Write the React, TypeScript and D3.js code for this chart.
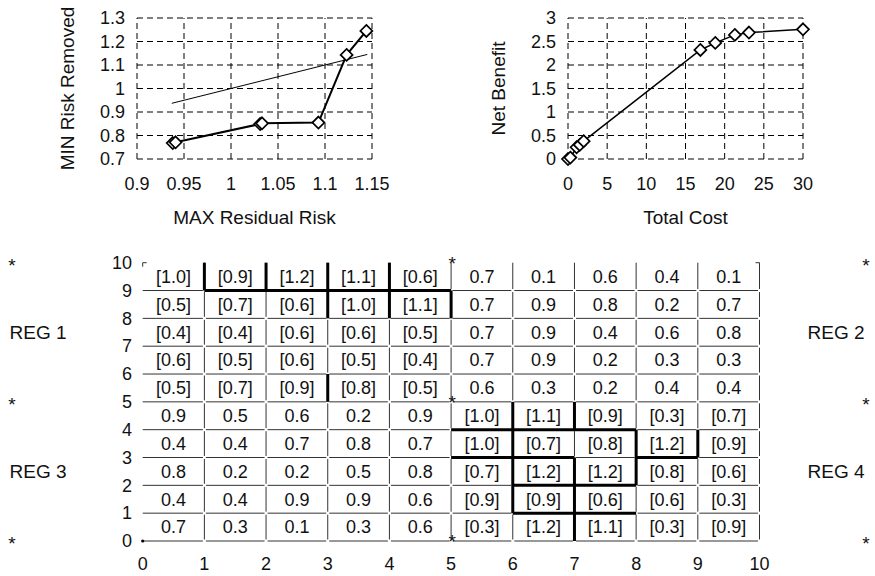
import React from "react";
import * as d3 from "d3";

// top-left: risk trade-off
const riskX = [0.938, 0.941, 1.031, 1.033, 1.093, 1.123, 1.144];
const riskY = [0.768, 0.771, 0.849, 0.852, 0.855, 1.143, 1.245];
const diagRange = [0.937, 1.145];
const riskXTicks = [0.9, 0.95, 1, 1.05, 1.1, 1.15];
const riskYTicks = [0.7, 0.8, 0.9, 1, 1.1, 1.2, 1.3];

// top-right: cost / benefit
const costX = [0, 0.3, 1.1, 1.5, 2.0, 16.9, 18.8, 21.3, 23.1, 30.0];
const benefitY = [0, 0.03, 0.25, 0.3, 0.38, 2.32, 2.47, 2.64, 2.69, 2.76];
const costTicks = [0, 5, 10, 15, 20, 25, 30];
const benefitTicks = [0, 0.5, 1, 1.5, 2, 2.5, 3];

// bottom grid, rows from y=9 (top) down to y=0
const cellRows = [
  [1.0, 0.9, 1.2, 1.1, 0.6, 0.7, 0.1, 0.6, 0.4, 0.1],
  [0.5, 0.7, 0.6, 1.0, 1.1, 0.7, 0.9, 0.8, 0.2, 0.7],
  [0.4, 0.4, 0.6, 0.6, 0.5, 0.7, 0.9, 0.4, 0.6, 0.8],
  [0.6, 0.5, 0.6, 0.5, 0.4, 0.7, 0.9, 0.2, 0.3, 0.3],
  [0.5, 0.7, 0.9, 0.8, 0.5, 0.6, 0.3, 0.2, 0.4, 0.4],
  [0.9, 0.5, 0.6, 0.2, 0.9, 1.0, 1.1, 0.9, 0.3, 0.7],
  [0.4, 0.4, 0.7, 0.8, 0.7, 1.0, 0.7, 0.8, 1.2, 0.9],
  [0.8, 0.2, 0.2, 0.5, 0.8, 0.7, 1.2, 1.2, 0.8, 0.6],
  [0.4, 0.4, 0.9, 0.9, 0.6, 0.9, 0.9, 0.6, 0.6, 0.3],
  [0.7, 0.3, 0.1, 0.3, 0.6, 0.3, 1.2, 1.1, 0.3, 0.9],
];
const gridTicks = d3.range(0, 11);
// thick zone borders [x1, y1, x2, y2]
const thickSegs = [
  [1, 9, 5, 9], [5, 4, 8, 4], [5, 3, 7, 3], [8, 3, 9, 3], [6, 2, 8, 2], [6, 1, 8, 1],
  [1, 9, 1, 10], [2, 9, 2, 10], [3, 8, 3, 10], [4, 8, 4, 10], [5, 8, 5, 9], [3, 5, 3, 6],
  [6, 1, 6, 5], [7, 4, 7, 5], [7, 0, 7, 3], [8, 2, 8, 4], [9, 3, 9, 4],
];
const regLabels = [
  { name: "REG 1", side: "left", y: 7.5 },
  { name: "REG 2", side: "right", y: 7.5 },
  { name: "REG 3", side: "left", y: 2.5 },
  { name: "REG 4", side: "right", y: 2.5 },
];
const starY = [10, 5, 0];

const font = "Liberation Sans, Arial, sans-serif";

const diamond = (cx: number, cy: number, r: number) =>
  `M${cx},${cy - r}L${cx + r},${cy}L${cx},${cy + r}L${cx - r},${cy}Z`;

const fmt = (v: number) => v.toFixed(1);

function LinePanel({ xs, ys, xTicks, yTicks, xRange, yRange, xTitle, yTitle, yTitleX, lw, diag }: any) {
  const x = d3.scaleLinear().domain([xTicks[0], xTicks[xTicks.length - 1]]).range(xRange);
  const y = d3.scaleLinear().domain([yTicks[0], yTicks[yTicks.length - 1]]).range(yRange);
  const line = d3.line<number>().x((d, i) => x(xs[i])).y((d, i) => y(ys[i]));
  const cx = (xRange[0] + xRange[1]) / 2;
  const cy = (yRange[0] + yRange[1]) / 2;
  return (
    <g fontFamily={font} fill="#111">
      {xTicks.map((t: number) => (
        <line key={"gx" + t} x1={x(t)} x2={x(t)} y1={yRange[0]} y2={yRange[1]} stroke="#000" strokeDasharray="6,4" />
      ))}
      {yTicks.map((t: number) => (
        <line key={"gy" + t} x1={xRange[0]} x2={xRange[1]} y1={y(t)} y2={y(t)} stroke="#000" strokeDasharray="6,4" />
      ))}
      {diag && (
        <line x1={x(diag[0])} y1={y(diag[0])} x2={x(diag[1])} y2={y(diag[1])} stroke="#000" strokeWidth={1} />
      )}
      <path d={line(xs) || ""} fill="none" stroke="#000" strokeWidth={lw} />
      {xs.map((v: number, i: number) => (
        <path key={"m" + i} d={diamond(x(v), y(ys[i]), 6)} fill="#fff" stroke="#000" strokeWidth={1.7} />
      ))}
      {xTicks.map((t: number) => (
        <text key={"tx" + t} x={x(t)} y={yRange[0] + 25} dy="0.35em" textAnchor="middle" fontSize={18}>
          {String(t)}
        </text>
      ))}
      {yTicks.map((t: number) => (
        <text key={"ty" + t} x={xRange[0] - 12} y={y(t)} dy="0.35em" textAnchor="end" fontSize={18}>
          {String(t)}
        </text>
      ))}
      <text x={cx} y={217} dy="0.35em" textAnchor="middle" fontSize={19}>{xTitle}</text>
      <text transform={`translate(${yTitleX},${cy}) rotate(-90)`} dy="0.35em" textAnchor="middle" fontSize={19}>
        {yTitle}
      </text>
    </g>
  );
}

export default function App() {
  const gx = d3.scaleLinear().domain([0, 10]).range([142.7, 759.5]);
  const gy = d3.scaleLinear().domain([0, 10]).range([541, 262.7]);
  const gap = 1.5;
  const thin: JSX.Element[] = [];
  for (let j = 0; j <= 9; j++) {
    for (let i = 0; i < 10; i++) {
      thin.push(
        <line key={`h${i}-${j}`} x1={gx(i) + (i === 0 ? 0 : gap)} x2={gx(i + 1) - gap} y1={gy(j)} y2={gy(j)} />
      );
    }
  }
  for (let i = 1; i <= 10; i++) {
    for (let j = 0; j < 10; j++) {
      thin.push(
        <line key={`v${i}-${j}`} x1={gx(i)} x2={gx(i)} y1={gy(j + 1) + (j === 9 ? 0 : gap)} y2={gy(j) - gap} />
      );
    }
  }

  return (
    <svg width={875} height={576} style={{ position: "absolute", left: 0, top: 0, background: "#fff" }}>
      <LinePanel
        xs={riskX} ys={riskY} xTicks={riskXTicks} yTicks={riskYTicks}
        xRange={[137, 372]} yRange={[159, 18]}
        xTitle="MAX Residual Risk" yTitle="MIN Risk Removed" yTitleX={67} lw={2} diag={diagRange}
      />
      <LinePanel
        xs={costX} ys={benefitY} xTicks={costTicks} yTicks={benefitTicks}
        xRange={[568, 803]} yRange={[159, 18]}
        xTitle="Total Cost" yTitle="Net Benefit" yTitleX={498} lw={1.5}
      />

      <g stroke="#333" strokeWidth={1}>{thin}</g>
      <g stroke="#333" strokeWidth={1}>
        <line x1={gx(0)} x2={gx(0) + 4} y1={gy(10)} y2={gy(10)} />
        <line x1={gx(0)} x2={gx(0)} y1={gy(10)} y2={gy(10) + 4} />
        <line x1={gx(10) - 4} x2={gx(10)} y1={gy(10)} y2={gy(10)} />
      </g>
      <circle cx={gx(0)} cy={gy(0)} r={1.6} fill="#000" />
      <g stroke="#000" strokeWidth={3}>
        {thickSegs.map((s, k) => (
          <line key={"t" + k} x1={gx(s[0])} y1={gy(s[1])} x2={gx(s[2])} y2={gy(s[3])} />
        ))}
      </g>
      <g fontFamily={font} fontSize={18} fill="#111" textAnchor="middle">
        {cellRows.map((row, r) =>
          row.map((v, c) => {
            const yv = 9 - r;
            const bracket = (c < 5 && yv >= 5) || (c >= 5 && yv < 5);
            return (
              <text key={`c${r}-${c}`} x={gx(c + 0.5)} y={gy(yv + 0.5)} dy="0.35em">
                {bracket ? `[${fmt(v)}]` : fmt(v)}
              </text>
            );
          })
        )}
        {gridTicks.map((t) => (
          <text key={"gxt" + t} x={gx(t)} y={564} dy="0.35em">{String(t)}</text>
        ))}
        {gridTicks.map((t) => (
          <text key={"gyt" + t} x={132} y={gy(t)} dy="0.35em" textAnchor="end">{String(t)}</text>
        ))}
        {regLabels.map((d) => (
          <text key={d.name} x={d.side === "left" ? 38 : 836} y={gy(d.y)} dy="0.35em" fontSize={19}>{d.name}</text>
        ))}
        {starY.map((v) => (
          <g key={"s" + v} fontSize={19}>
            <text x={12} y={gy(v) + 9}>*</text>
            <text x={gx(5) + 1} y={gy(v) + 7}>*</text>
            <text x={866} y={gy(v) + 9}>*</text>
          </g>
        ))}
      </g>
    </svg>
  );
}
